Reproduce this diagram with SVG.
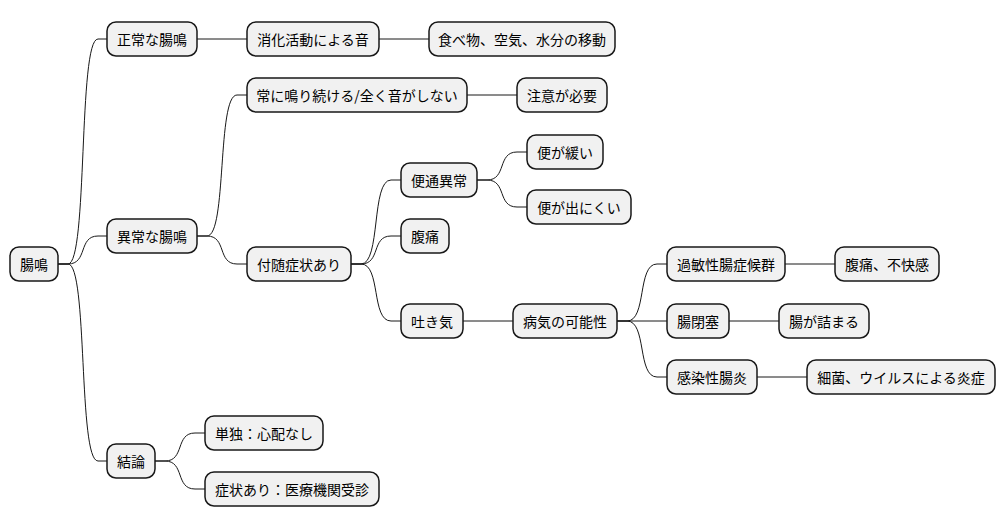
<svg xmlns="http://www.w3.org/2000/svg" width="1006" height="527" viewBox="0 0 1006 527">
<style>
.n rect{fill:#F1F1F1;stroke:#181818;stroke-width:1.5}
.n text{font-family:"Noto Sans CJK JP","Noto Sans CJK SC",sans-serif;font-size:14px;fill:#000;dominant-baseline:central}
#edges path{fill:none;stroke:#181818;stroke-width:1}
</style>
<rect width="1006" height="527" fill="#fff"/>
<g id="edges">
<path d="M58,264 H68 C88,264 78,39 98,39 H107"/>
<path d="M58,264 H68 C88,264 78,236 98,236 H107"/>
<path d="M58,264 H68 C88,264 78,461 98,461 H107"/>
<path d="M197,39 H247"/>
<path d="M379,39 H429"/>
<path d="M197,236 H207 C227,236 217,95 237,95 H247"/>
<path d="M197,236 H207 C227,236 217,264 237,264 H247"/>
<path d="M467,95 H517"/>
<path d="M351,264 H361 C381,264 371,180 391,180 H401"/>
<path d="M351,264 H361 C381,264 371,236 391,236 H401"/>
<path d="M351,264 H361 C381,264 371,321 391,321 H401"/>
<path d="M477,180 H487 C507,180 497,152 517,152 H527"/>
<path d="M477,180 H487 C507,180 497,207 517,207 H527"/>
<path d="M463,321 H513"/>
<path d="M617,321 H627 C647,321 637,264 657,264 H667"/>
<path d="M617,321 H667"/>
<path d="M617,321 H627 C647,321 637,377 657,377 H667"/>
<path d="M785,264 H835"/>
<path d="M729,321 H779"/>
<path d="M757,377 H807"/>
<path d="M155,461 H165 C185,461 175,433 195,433 H205"/>
<path d="M155,461 H165 C185,461 175,489 195,489 H205"/>
</g>
<g id="n0" class="n"><rect x="10" y="247" width="48" height="34" rx="9"/><text x="34" y="264" text-anchor="middle">腸鳴</text></g>
<g id="n1" class="n"><rect x="107" y="22" width="90" height="34" rx="9"/><text x="152" y="39" text-anchor="middle">正常な腸鳴</text></g>
<g id="n2" class="n"><rect x="247" y="22" width="132" height="34" rx="9"/><text x="313" y="39" text-anchor="middle">消化活動による音</text></g>
<g id="n3" class="n"><rect x="429" y="22" width="186" height="34" rx="9"/><text x="522" y="39" text-anchor="middle">食べ物、空気、水分の移動</text></g>
<g id="n4" class="n"><rect x="107" y="219" width="90" height="34" rx="9"/><text x="152" y="236" text-anchor="middle">異常な腸鳴</text></g>
<g id="n5" class="n"><rect x="247" y="78" width="220" height="34" rx="9"/><text x="357" y="95" text-anchor="middle">常に鳴り続ける/全く音がしない</text></g>
<g id="n6" class="n"><rect x="517" y="78" width="90" height="34" rx="9"/><text x="562" y="95" text-anchor="middle">注意が必要</text></g>
<g id="n7" class="n"><rect x="247" y="247" width="104" height="34" rx="9"/><text x="299" y="264" text-anchor="middle">付随症状あり</text></g>
<g id="n8" class="n"><rect x="401" y="163" width="76" height="34" rx="9"/><text x="439" y="180" text-anchor="middle">便通異常</text></g>
<g id="n9" class="n"><rect x="527" y="135" width="76" height="34" rx="9"/><text x="565" y="152" text-anchor="middle">便が緩い</text></g>
<g id="n10" class="n"><rect x="527" y="190" width="104" height="34" rx="9"/><text x="579" y="207" text-anchor="middle">便が出にくい</text></g>
<g id="n11" class="n"><rect x="401" y="219" width="48" height="34" rx="9"/><text x="425" y="236" text-anchor="middle">腹痛</text></g>
<g id="n12" class="n"><rect x="401" y="304" width="62" height="34" rx="9"/><text x="432" y="321" text-anchor="middle">吐き気</text></g>
<g id="n13" class="n"><rect x="513" y="304" width="104" height="34" rx="9"/><text x="565" y="321" text-anchor="middle">病気の可能性</text></g>
<g id="n14" class="n"><rect x="667" y="247" width="118" height="34" rx="9"/><text x="726" y="264" text-anchor="middle">過敏性腸症候群</text></g>
<g id="n15" class="n"><rect x="835" y="247" width="104" height="34" rx="9"/><text x="887" y="264" text-anchor="middle">腹痛、不快感</text></g>
<g id="n16" class="n"><rect x="667" y="304" width="62" height="34" rx="9"/><text x="698" y="321" text-anchor="middle">腸閉塞</text></g>
<g id="n17" class="n"><rect x="779" y="304" width="90" height="34" rx="9"/><text x="824" y="321" text-anchor="middle">腸が詰まる</text></g>
<g id="n18" class="n"><rect x="667" y="360" width="90" height="34" rx="9"/><text x="712" y="377" text-anchor="middle">感染性腸炎</text></g>
<g id="n19" class="n"><rect x="807" y="360" width="188" height="34" rx="9"/><text x="901" y="377" text-anchor="middle">細菌、ウイルスによる炎症</text></g>
<g id="n20" class="n"><rect x="107" y="444" width="48" height="34" rx="9"/><text x="131" y="461" text-anchor="middle">結論</text></g>
<g id="n21" class="n"><rect x="205" y="416" width="118" height="34" rx="9"/><text x="264" y="433" text-anchor="middle">単独：心配なし</text></g>
<g id="n22" class="n"><rect x="205" y="472" width="174" height="34" rx="9"/><text x="292" y="489" text-anchor="middle">症状あり：医療機関受診</text></g>
</svg>
